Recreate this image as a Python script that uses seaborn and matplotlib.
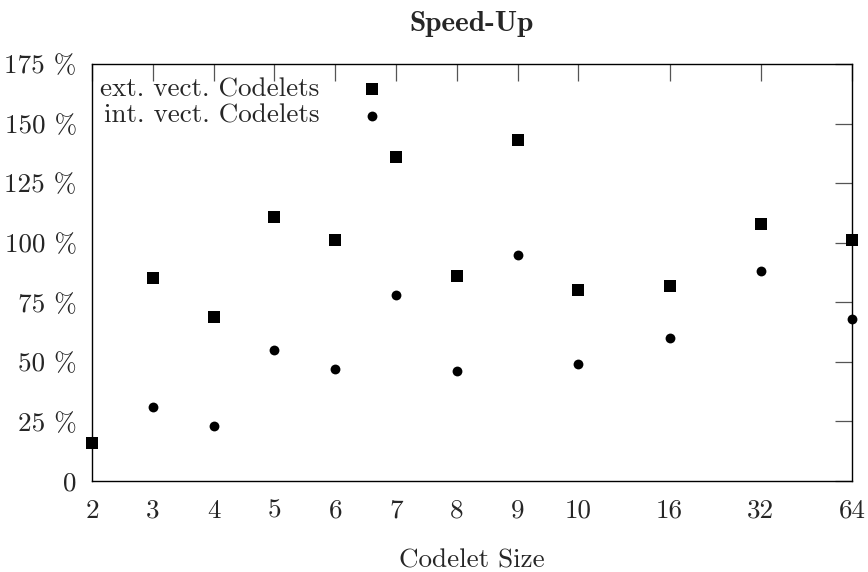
import numpy as np
import pandas as pd
import matplotlib
matplotlib.use("Agg")
import matplotlib.pyplot as plt
import seaborn as sns

# Data
codelet_sizes = [2, 3, 4, 5, 6, 7, 8, 9, 10, 16, 32, 64]
ext_speedup = [16, 85, 69, 111, 101, 136, 86, 143, 80, 82, 108, 101]
int_sizes = [3, 4, 5, 6, 7, 8, 9, 10, 16, 32, 64]
int_speedup = [31, 23, 55, 47, 78, 46, 95, 49, 60, 88, 68]
y_ticks = [0, 25, 50, 75, 100, 125, 150, 175]
y_tick_labels = ["0"] + [f"{v} %" for v in y_ticks[1:]]

sns.set_style("white")
plt.rcParams["font.family"] = ["cmr10", "DejaVu Serif"]
plt.rcParams["axes.unicode_minus"] = False
plt.rcParams["axes.formatter.use_mathtext"] = True

FS = 19.5

fig = plt.figure(figsize=(8.68, 5.72), dpi=100)
ax = fig.add_axes([92 / 868, 1 - 481 / 572, (852 - 92) / 868, (481 - 64) / 572])


def fwd(x):
    x = np.asarray(x, dtype=float)
    with np.errstate(divide="ignore", invalid="ignore"):
        lg = 9.5 + 1.5 * np.log2(np.clip(x, 1e-9, None) / 16.0)
    return np.where(x <= 10, x - 2, np.where(x <= 16, 8 + (x - 10) * 0.25, lg))


def inv(p):
    p = np.asarray(p, dtype=float)
    return np.where(p <= 8, p + 2, np.where(p <= 9.5, 10 + (p - 8) * 4, 16 * 2 ** ((p - 9.5) / 1.5)))


ax.set_xscale("function", functions=(fwd, inv))

df_ext = pd.DataFrame({"size": codelet_sizes, "speedup": ext_speedup})
df_int = pd.DataFrame({"size": int_sizes, "speedup": int_speedup})

sns.scatterplot(data=df_ext, x="size", y="speedup", marker="s", s=80, color="black",
                linewidth=0, ax=ax, label="ext. vect. Codelets", clip_on=False, zorder=3)
sns.scatterplot(data=df_int, x="size", y="speedup", marker="o", s=50, color="black",
                linewidth=0, ax=ax, label="int. vect. Codelets", clip_on=False, zorder=3)

ax.set_xlim(2, 64)
ax.set_ylim(0, 175)
ax.set_xticks(codelet_sizes)
ax.set_xticklabels([str(c) for c in codelet_sizes])
ax.xaxis.set_minor_locator(matplotlib.ticker.NullLocator())
ax.set_yticks(y_ticks)
ax.set_yticklabels(y_tick_labels)

ax.tick_params(axis="both", which="major", direction="in", length=12, width=0.9,
               top=True, right=True, labelsize=FS, color="#555555")
ax.tick_params(axis="x", pad=13)
ax.tick_params(axis="y", pad=11)
for sp in ax.spines.values():
    sp.set_linewidth(1.0)
    sp.set_color("black")
    sp.set_visible(True)

ax.set_xlabel("Codelet Size", fontsize=FS, labelpad=19)
ax.set_ylabel("")
ax.set_title("Speed-Up", fontsize=21, fontfamily=["cmb10", "DejaVu Serif"], fontweight="bold", pad=24)

leg = ax.legend(loc="upper left", bbox_to_anchor=(0.0, 0.988), frameon=False,
                markerfirst=False, fontsize=FS, handletextpad=1.45, borderaxespad=0.1,
                labelspacing=0.1, borderpad=0.2, handlelength=1.0)

fig.savefig("out.png", dpi=100)
